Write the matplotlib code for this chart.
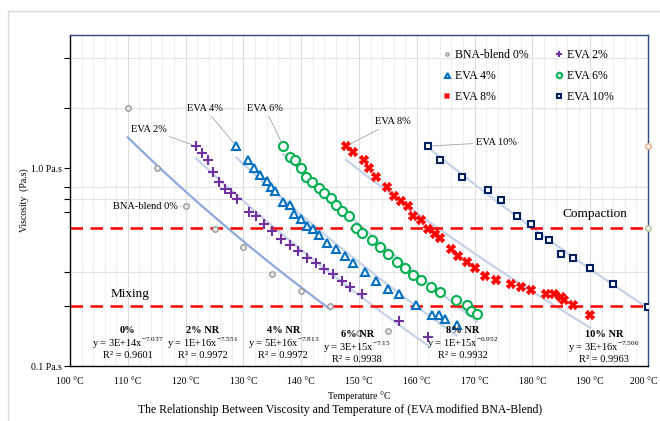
import numpy as np
import matplotlib
matplotlib.use("Agg")
import matplotlib.pyplot as plt
from matplotlib.patches import Rectangle
from matplotlib.transforms import ScaledTranslation

plt.rcParams['font.family'] = ['Liberation Serif', 'DejaVu Serif']
plt.rcParams['mathtext.fontset'] = 'custom'
plt.rcParams['mathtext.rm'] = 'Liberation Serif'

# ---- data (temperature degC, viscosity Pa.s) ----
t_0 = [110, 115, 120, 125, 130, 135, 140, 145, 150, 155]
v_0 = [2.0, 1.0, 0.64, 0.49, 0.40, 0.29, 0.24, 0.20, 0.147, 0.15]

t_2 = [121.8, 122.9, 123.9, 124.8, 125.8, 126.9, 127.9, 128.9, 131.0, 132.1, 133.5, 135.0,
       136.5, 138.0, 139.5, 141.0, 142.5, 144.0, 145.5, 147.0, 148.5, 150.5, 156.9, 162.0]
v_2 = [1.29, 1.19, 1.10, 0.955, 0.85, 0.78, 0.75, 0.70, 0.60, 0.57, 0.52, 0.48,
       0.44, 0.41, 0.38, 0.35, 0.33, 0.31, 0.29, 0.27, 0.25, 0.23, 0.169, 0.14]

t_4 = [128.8, 130.8, 131.9, 132.9, 134.0, 134.8, 135.5, 136.9, 138.0, 138.8, 140.0, 141.0,
       142.0, 143.0, 144.5, 146.0, 147.5, 149.0, 151.0, 153.0, 155.0, 157.0, 159.8, 162.7,
       163.8, 164.8, 166.9]
v_4 = [1.29, 1.10, 0.995, 0.92, 0.86, 0.80, 0.766, 0.673, 0.65, 0.586, 0.55, 0.51,
       0.49, 0.46, 0.42, 0.39, 0.36, 0.33, 0.30, 0.27, 0.245, 0.23, 0.203, 0.181,
       0.181, 0.172, 0.161]

t_6 = [136.9, 138.0, 139.0, 140.0, 140.9, 141.9, 143.0, 144.0, 145.1, 146.1, 147.1, 148.2,
       149.4, 150.6, 152.3, 153.7, 155.1, 156.5, 157.9, 159.3, 160.7, 162.4, 164.1, 166.7,
       168.6, 169.3, 170.4]
v_6 = [1.29, 1.14, 1.10, 1.0, 0.90, 0.85, 0.79, 0.75, 0.705, 0.65, 0.607, 0.573,
       0.50, 0.47, 0.433, 0.40, 0.368, 0.335, 0.313, 0.288, 0.272, 0.25, 0.236, 0.216,
       0.203, 0.19, 0.183]

t_8 = [147.8, 148.9, 150.8, 151.8, 152.9, 154.9, 156.0, 157.2, 158.4, 159.4, 160.7, 162.0,
       163.1, 164.1, 165.9, 167.2, 168.6, 170.0, 171.8, 173.7, 176.3, 178.0, 179.7, 182.3,
       183.7, 184.9, 185.4, 187.0, 190.0]
v_8 = [1.29, 1.20, 1.10, 1.0, 0.90, 0.80, 0.72, 0.68, 0.643, 0.573, 0.546, 0.492,
       0.464, 0.443, 0.39, 0.36, 0.335, 0.313, 0.285, 0.272, 0.26, 0.25, 0.242, 0.23,
       0.23, 0.223, 0.216, 0.203, 0.181]

t_10 = [161.9, 164.0, 167.9, 172.4, 174.5, 177.3, 179.7, 181.1, 182.8, 184.9, 187.0, 190.0,
        193.9, 200.0]
v_10 = [1.29, 1.10, 0.90, 0.774, 0.69, 0.573, 0.521, 0.454, 0.433, 0.368, 0.351, 0.313,
        0.26, 0.199]

edge_t = [200, 200]
edge_v = [1.29, 0.50]
edge_colors = ['#E3A47C', '#A9C08A']

names = ['BNA-blend 0%', 'EVA 2%', 'EVA 4%', 'EVA 6%', 'EVA 8%', 'EVA 10%']
temps = [t_0, t_2, t_4, t_6, t_8, t_10]
visc = [v_0, v_2, v_4, v_6, v_8, v_10]
trend_end = [145, None, None, None, None, None]

eq_titles = ['0%', '2% NR', '4% NR', '6% NR', '8% NR', '10% NR']
eq_lines = ['y = 3E+14x$^{\\mathregular{-7.037}}$', 'y = 1E+16x$^{\\mathregular{-7.551}}$',
            'y = 5E+16x$^{\\mathregular{-7.813}}$', 'y = 3E+15x$^{\\mathregular{-7.15}}$',
            'y = 1E+15x$^{\\mathregular{-6.952}}$', 'y = 3E+16x$^{\\mathregular{-7.506}}$']
r2_lines = ['R² = 0.9601', 'R² = 0.9972', 'R² = 0.9972', 'R² = 0.9938', 'R² = 0.9932', 'R² = 0.9963']

mixing = 0.2
compaction = 0.5

# ---- styles ----
styles = [
    dict(marker='o', ms=4, mfc='#E6E6E6', mec='#8C8C8C', mew=0.8),
    dict(marker='+', ms=6.5, mec='#7030A0', mew=1.5),
    dict(marker='^', ms=6, mfc='white', mec='#0070C0', mew=1.5),
    dict(marker='o', ms=6.5, mfc='white', mec='#00B050', mew=1.5),
    dict(marker='X', ms=6.5, mfc='#FF0000', mec='#FF0000', mew=0.3),
    dict(marker='s', ms=4.8, mfc='white', mec='#002060', mew=1.5),
]
trend_colors = ['#8EA9DB', '#C5D3EA', '#C5D3EA', '#C5D3EA', '#C5D3EA', '#C5D3EA']

fig = plt.figure(figsize=(6.6, 4.21), dpi=100)
fig.patches.append(Rectangle((8 / 660, -0.01), 0.99, 0.984, transform=fig.transFigure,
                             fill=False, edgecolor='#D9D9D9', lw=1))
ax = fig.add_axes([70 / 660, 55 / 421, 578 / 660, 331 / 421])
ax.set_yscale('log')
ax.set_xlim(100, 200)
ax.set_ylim(0.1, 4.7)

# grid
for x in np.arange(102, 200, 2):
    ax.axvline(x, color='#DCDCDC' if x % 10 == 0 else '#EFEFEF', lw=0.8, zorder=0)
for y in [0.3, 0.7, 0.8, 2.0, 3.6]:
    ax.axhline(y, color='#E3E3E3', lw=0.8, zorder=0)

# trendlines (power fit in log-log)
for i in range(6):
    t = np.array(temps[i])
    v = np.array(visc[i])
    k, c = np.polyfit(np.log(t), np.log(v), 1)
    hi = trend_end[i] if trend_end[i] else t.max()
    xs = np.linspace(t.min(), hi, 50)
    ax.plot(xs, np.exp(c) * xs ** k, color=trend_colors[i], lw=1.6, zorder=1)

handles = []
for i in range(6):
    h, = ax.plot(temps[i], visc[i], ls='none', zorder=3, label=names[i], **styles[i])
    handles.append(h)
for i in range(2):
    ax.plot(edge_t[i], edge_v[i], 'o', ms=4, mfc='#F2F2F2', mec=edge_colors[i], mew=0.9,
            zorder=3, clip_on=False)

# mixing / compaction
ax.axhline(compaction, color='#FF0000', lw=1.8, dashes=(5, 3), zorder=2)
ax.axhline(mixing, color='#FF0000', lw=1.8, dashes=(5, 3), zorder=2)
ax.text(190.8, 0.545, 'Compaction', ha='center', va='bottom', fontsize=9.5)
ax.text(110.4, 0.215, 'Mixing', ha='center', va='bottom', fontsize=9.5)

# series labels with leader lines
lab_kw = dict(fontsize=7.5, arrowprops=dict(arrowstyle='-', color='#A6A6A6', lw=0.6,
                                            shrinkA=0, shrinkB=3))
ax.annotate('EVA 2%', xy=(t_2[0], v_2[0]), xytext=(113.7, 1.57), ha='center', va='center', **lab_kw)
ax.annotate('EVA 4%', xy=(t_4[0], v_4[0]), xytext=(123.4, 1.99), ha='center', va='center', **lab_kw)
ax.annotate('EVA 6%', xy=(t_6[0], v_6[0]), xytext=(133.8, 1.99), ha='center', va='center', **lab_kw)
ax.annotate('EVA 8%', xy=(t_8[0], v_8[0]), xytext=(155.8, 1.71), ha='center', va='center', **lab_kw)
ax.annotate('EVA 10%', xy=(t_10[0], v_10[0]), xytext=(173.7, 1.35), ha='center', va='center', **lab_kw)
ax.annotate('BNA-blend 0%', xy=(t_0[2], v_0[2]), xytext=(113.0, 0.643), ha='center', va='center', **lab_kw)

# equations
eq_x = [110, 123, 136.9, 149.7, 168, 192.4]
eq_dy = [0, 0, 0, -0.012, 0, -0.012]
for i in range(6):
    y0 = 0.106 + eq_dy[i]
    ax.text(eq_x[i], y0, eq_titles[i], transform=ax.get_xaxis_transform(), ha='center',
            va='center', fontsize=7.5, fontweight='bold')
    ax.text(eq_x[i], y0 - 0.038, eq_lines[i], transform=ax.get_xaxis_transform(), ha='center',
            va='center', fontsize=7.5)
    ax.text(eq_x[i], y0 - 0.075, r2_lines[i], transform=ax.get_xaxis_transform(), ha='center',
            va='center', fontsize=7.5)

# axes styling
ax.set_xticks(np.arange(100, 201, 10))
ax.set_xticklabels(['%d °C' % t for t in range(100, 201, 10)], fontsize=7)
ax.tick_params(axis='x', length=0, pad=8)
last = ax.get_xticklabels()[-1]
last.set_transform(last.get_transform() + ScaledTranslation(-4 / 100, 0, fig.dpi_scale_trans))
ax.set_yticks([0.1, 1.0])
ax.set_yticklabels(['0.1 Pa.s', '1.0 Pa.s'], fontsize=7)
ax.set_yticks([0.2, 0.3, 0.6, 0.7, 0.8, 2.0, 3.6], minor=True)
ax.yaxis.set_minor_formatter(matplotlib.ticker.NullFormatter())
ax.tick_params(axis='y', which='both', length=4, width=0.8, direction='out', pad=2)
for s in ['left', 'bottom']:
    ax.spines[s].set_color('black')
    ax.spines[s].set_linewidth(1)
for s in ['top', 'right']:
    ax.spines[s].set_color('#2F4A7F')
    ax.spines[s].set_linewidth(1)

ax.set_xlabel('Temperature °C', fontsize=7, labelpad=4)
ax.set_ylabel('Viscosity  (Pa.s)', fontsize=7, labelpad=1)
fig.text(0.515, 0.025, 'The Relationship Between Viscosity and Temperature of (EVA modified BNA-Blend)',
         ha='center', va='center', fontsize=8.5)

order = [0, 2, 4, 1, 3, 5]
ax.legend([handles[i] for i in order], [names[i] for i in order], ncol=2, loc='upper left',
          bbox_to_anchor=(0.625, 0.99), frameon=False, fontsize=8.5, markerscale=0.6,
          handlelength=0.8, handletextpad=0.3, columnspacing=2.2, labelspacing=0.75)

fig.savefig('out.png', dpi=100)
